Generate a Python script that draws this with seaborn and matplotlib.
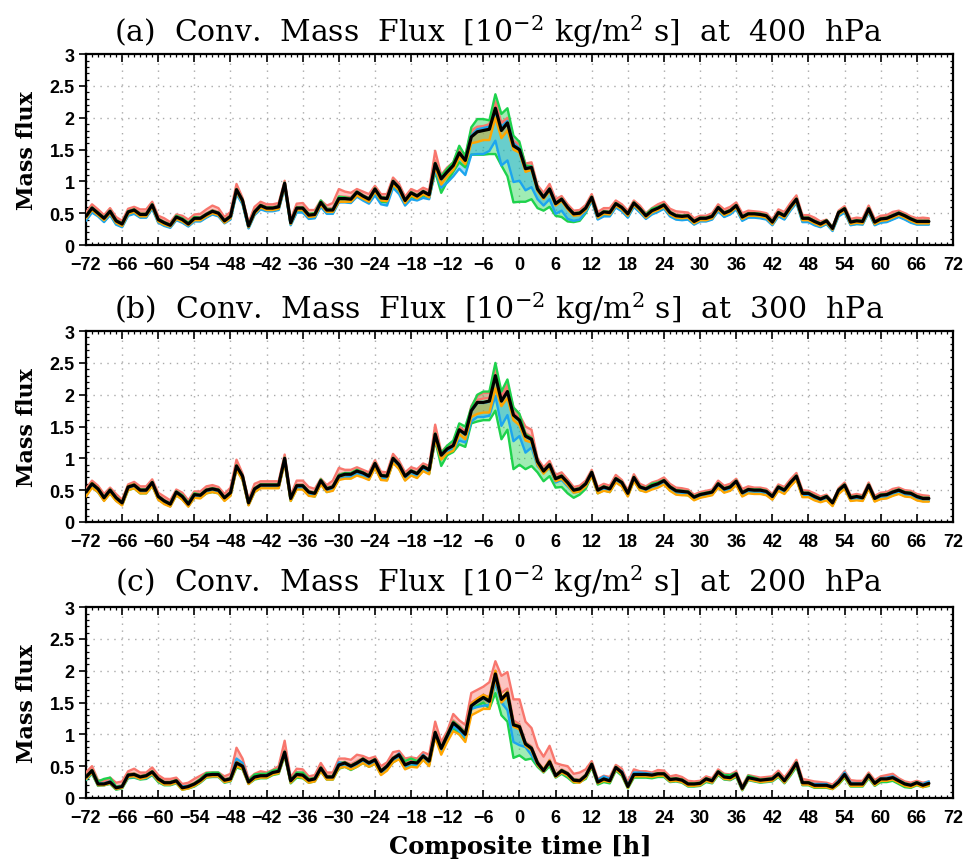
import numpy as np
import matplotlib
matplotlib.use("Agg")
import matplotlib.pyplot as plt
import seaborn as sns
from matplotlib.ticker import MultipleLocator

# Composite time axis [h]
hours = np.arange(-72, 69)

# Convective mass flux, stored in hundredths of 10^-2 kg/m^2/s
# ---------------------------------------------------------------- 400 hPa
p400_black = [
    45, 58, 50, 42, 53, 38, 33, 52, 55, 48, 48, 63,
    40, 35, 31, 44, 40, 33, 42, 42, 48, 53, 50, 38,
    45, 87, 70, 30, 52, 62, 58, 58, 60, 97, 35, 58,
    58, 47, 48, 67, 55, 55, 73, 73, 72, 83, 77, 72,
    88, 74, 73, 100, 90, 70, 82, 77, 84, 79, 128, 104,
    115, 125, 145, 133, 170, 178, 180, 182, 215, 180, 192, 156,
    150, 120, 122, 88, 75, 88, 65, 72, 59, 49, 50, 58,
    75, 46, 52, 51, 65, 59, 49, 66, 57, 46, 54, 58,
    63, 51, 46, 45, 46, 37, 42, 42, 45, 59, 50, 54,
    62, 44, 49, 49, 48, 46, 36, 51, 46, 60, 72, 42,
    42, 37, 33, 38, 26, 51, 57, 36, 38, 37, 57, 36,
    41, 42, 46, 50, 46, 41, 37, 37, 37,
]
p400_red_hi = [
    51, 64, 56, 47, 58, 44, 38, 57, 60, 56, 56, 68,
    46, 42, 36, 48, 46, 40, 48, 49, 56, 62, 58, 44,
    52, 96, 74, 35, 60, 68, 64, 64, 66, 101, 40, 65,
    66, 55, 55, 70, 62, 66, 88, 84, 82, 88, 84, 80,
    93, 80, 80, 106, 96, 76, 88, 84, 90, 86, 148, 110,
    122, 130, 152, 139, 180, 186, 187, 190, 226, 192, 200, 164,
    158, 128, 130, 94, 82, 96, 72, 77, 64, 54, 55, 63,
    80, 52, 58, 58, 70, 64, 54, 70, 62, 50, 58, 64,
    68, 57, 53, 52, 51, 42, 46, 46, 50, 64, 56, 60,
    67, 50, 54, 53, 52, 50, 40, 56, 52, 66, 78, 47,
    47, 43, 37, 40, 28, 54, 61, 41, 43, 42, 62, 41,
    46, 47, 52, 54, 50, 45, 42, 43, 42,
]
p400_red_lo = [
    47, 60, 52, 44, 55, 40, 35, 54, 57, 51, 51, 65,
    42, 37, 33, 45, 42, 35, 44, 44, 50, 55, 52, 40,
    47, 89, 72, 32, 54, 64, 60, 60, 62, 98, 37, 60,
    60, 49, 50, 68, 57, 58, 76, 76, 75, 85, 79, 74,
    90, 76, 75, 102, 92, 72, 84, 79, 86, 81, 133, 106,
    118, 127, 148, 135, 174, 182, 183, 185, 220, 186, 196, 160,
    153, 123, 125, 90, 77, 90, 67, 74, 61, 51, 52, 60,
    77, 48, 54, 53, 67, 61, 51, 68, 59, 48, 56, 60,
    65, 53, 48, 47, 48, 39, 44, 44, 47, 61, 52, 56,
    64, 46, 51, 51, 50, 48, 38, 53, 48, 62, 74, 44,
    44, 39, 35, 39, 27, 52, 58, 38, 40, 39, 59, 38,
    43, 44, 48, 52, 48, 43, 39, 39, 39,
]
p400_green_hi = [
    46, 59, 51, 43, 54, 39, 34, 53, 56, 49, 49, 64,
    41, 36, 32, 46, 42, 35, 44, 43, 49, 54, 51, 39,
    46, 88, 71, 31, 53, 63, 59, 59, 61, 98, 36, 59,
    59, 49, 50, 70, 57, 56, 76, 75, 73, 84, 78, 73,
    89, 75, 74, 101, 91, 71, 83, 78, 85, 80, 129, 108,
    120, 130, 156, 140, 185, 198, 198, 196, 237, 206, 215, 172,
    162, 125, 124, 90, 76, 89, 66, 73, 60, 50, 51, 59,
    76, 47, 53, 52, 66, 60, 50, 67, 58, 48, 57, 60,
    64, 52, 47, 46, 47, 38, 43, 43, 46, 60, 51, 55,
    63, 45, 50, 50, 49, 47, 37, 52, 47, 61, 73, 43,
    43, 38, 34, 39, 27, 52, 58, 37, 39, 38, 58, 37,
    42, 43, 47, 51, 47, 42, 38, 38, 38,
]
p400_green_lo = [
    40, 53, 46, 37, 48, 33, 29, 47, 50, 44, 44, 58,
    36, 31, 28, 40, 36, 30, 38, 38, 44, 49, 46, 35,
    41, 82, 65, 27, 48, 57, 54, 54, 56, 92, 32, 52,
    52, 42, 43, 62, 50, 50, 68, 68, 67, 78, 72, 67,
    82, 68, 67, 94, 84, 65, 76, 72, 78, 74, 115, 82,
    100, 115, 130, 122, 142, 142, 142, 143, 143, 125, 108, 67,
    68, 68, 72, 58, 54, 60, 46, 44, 37, 36, 38, 50,
    70, 41, 47, 46, 60, 54, 44, 61, 52, 42, 50, 54,
    58, 46, 41, 40, 41, 33, 38, 38, 41, 54, 45, 49,
    57, 39, 44, 44, 43, 41, 32, 46, 41, 55, 67, 37,
    37, 32, 29, 33, 23, 46, 52, 32, 33, 33, 52, 32,
    36, 37, 41, 45, 41, 36, 33, 33, 33,
]
p400_blue_hi = [
    44, 56, 48, 40, 51, 36, 31, 50, 53, 46, 46, 61,
    39, 34, 30, 43, 39, 32, 41, 41, 47, 52, 49, 37,
    44, 86, 69, 29, 51, 61, 57, 57, 59, 95, 34, 57,
    57, 46, 47, 66, 54, 54, 72, 72, 71, 82, 76, 71,
    87, 73, 72, 99, 89, 69, 81, 76, 83, 78, 126, 102,
    114, 124, 144, 132, 172, 182, 184, 186, 208, 186, 195, 160,
    152, 121, 123, 88, 75, 88, 65, 71, 58, 48, 49, 57,
    74, 45, 51, 50, 64, 58, 48, 65, 56, 45, 53, 57,
    62, 50, 45, 44, 45, 36, 41, 41, 44, 58, 49, 53,
    61, 43, 48, 48, 47, 45, 35, 50, 45, 59, 71, 41,
    41, 36, 32, 37, 25, 50, 56, 35, 37, 36, 56, 35,
    40, 41, 45, 49, 45, 40, 36, 36, 36,
]
p400_blue_lo = [
    38, 51, 45, 36, 47, 32, 28, 46, 49, 43, 43, 57,
    35, 30, 27, 39, 35, 29, 37, 37, 43, 48, 45, 34,
    40, 80, 64, 26, 47, 56, 53, 53, 55, 90, 31, 51,
    51, 41, 42, 60, 49, 49, 67, 67, 66, 76, 70, 65,
    78, 64, 62, 90, 80, 62, 72, 70, 74, 72, 118, 90,
    98, 108, 120, 110, 142, 143, 143, 148, 164, 125, 133, 99,
    101, 86, 91, 72, 62, 72, 49, 54, 41, 38, 40, 52,
    69, 40, 45, 45, 59, 53, 43, 60, 51, 41, 48, 52,
    57, 45, 40, 39, 40, 32, 37, 37, 40, 53, 44, 48,
    56, 38, 43, 43, 42, 40, 31, 45, 40, 54, 66, 36,
    36, 31, 28, 33, 22, 45, 51, 31, 33, 32, 51, 31,
    35, 36, 40, 44, 40, 35, 32, 32, 32,
]
p400_orange_hi = [
    45, 57, 50, 42, 52, 38, 33, 51, 55, 48, 48, 62,
    40, 35, 31, 44, 40, 33, 42, 42, 48, 53, 50, 38,
    45, 87, 70, 30, 52, 62, 58, 58, 60, 96, 35, 58,
    58, 47, 48, 67, 55, 55, 72, 72, 71, 82, 76, 71,
    88, 74, 73, 100, 90, 70, 82, 77, 84, 79, 127, 103,
    115, 125, 145, 133, 170, 178, 180, 182, 214, 180, 192, 156,
    150, 120, 122, 88, 75, 87, 65, 72, 59, 49, 50, 58,
    75, 46, 52, 51, 65, 59, 49, 66, 57, 46, 54, 58,
    63, 51, 46, 45, 46, 37, 42, 42, 45, 59, 50, 54,
    62, 44, 49, 49, 48, 46, 36, 51, 46, 60, 72, 42,
    42, 37, 33, 38, 26, 51, 57, 36, 38, 37, 57, 36,
    41, 42, 46, 50, 46, 41, 37, 37, 37,
]
p400_orange_lo = [
    42, 55, 47, 39, 50, 35, 30, 49, 52, 45, 45, 60,
    37, 32, 29, 41, 37, 31, 39, 39, 45, 50, 47, 35,
    42, 84, 67, 28, 49, 59, 55, 55, 57, 93, 33, 55,
    55, 44, 45, 63, 52, 52, 68, 68, 68, 78, 73, 68,
    84, 70, 69, 95, 86, 66, 78, 73, 80, 75, 122, 95,
    108, 118, 138, 127, 160, 162, 165, 165, 200, 168, 180, 150,
    145, 115, 118, 85, 72, 85, 62, 69, 56, 46, 47, 55,
    72, 43, 49, 48, 62, 56, 46, 63, 54, 43, 51, 55,
    60, 48, 43, 42, 43, 34, 39, 39, 42, 56, 47, 51,
    59, 41, 46, 46, 45, 43, 33, 48, 43, 57, 69, 39,
    39, 34, 30, 35, 24, 48, 54, 33, 35, 34, 54, 33,
    38, 39, 43, 47, 43, 38, 34, 34, 34,
]

# ---------------------------------------------------------------- 300 hPa
p300_black = [
    47, 60, 52, 38, 50, 38, 30, 55, 58, 50, 50, 62,
    40, 33, 28, 47, 40, 28, 43, 42, 50, 52, 50, 38,
    46, 88, 72, 30, 52, 58, 58, 58, 58, 100, 37, 57,
    57, 47, 45, 65, 52, 55, 72, 75, 75, 80, 77, 72,
    92, 73, 72, 100, 90, 72, 80, 76, 87, 82, 138, 105,
    115, 120, 145, 138, 175, 188, 188, 190, 230, 190, 205, 168,
    160, 135, 130, 95, 80, 90, 68, 72, 62, 50, 52, 60,
    78, 50, 55, 52, 68, 62, 45, 70, 55, 52, 57, 60,
    65, 55, 49, 48, 47, 39, 43, 45, 47, 60, 52, 55,
    64, 46, 51, 50, 50, 48, 40, 55, 50, 62, 72, 45,
    45, 40, 36, 40, 30, 50, 58, 38, 40, 38, 58, 37,
    42, 43, 47, 50, 46, 45, 40, 37, 37,
]
p300_red_hi = [
    52, 65, 57, 44, 54, 44, 35, 59, 63, 56, 56, 67,
    46, 40, 34, 51, 46, 34, 48, 48, 56, 58, 55, 44,
    54, 98, 76, 35, 60, 64, 64, 64, 64, 106, 42, 65,
    65, 55, 52, 68, 58, 65, 85, 82, 82, 86, 82, 78,
    97, 79, 78, 107, 96, 78, 86, 83, 92, 88, 153, 110,
    120, 126, 150, 142, 182, 198, 203, 203, 240, 198, 216, 180,
    168, 150, 145, 100, 86, 96, 74, 78, 67, 55, 57, 65,
    82, 55, 60, 57, 74, 66, 50, 75, 60, 56, 62, 65,
    70, 60, 54, 53, 51, 43, 47, 49, 51, 65, 57, 60,
    68, 52, 56, 54, 54, 52, 44, 59, 55, 67, 77, 50,
    49, 45, 40, 43, 32, 53, 62, 42, 44, 42, 62, 41,
    46, 47, 52, 54, 50, 49, 44, 42, 41,
]
p300_red_lo = [
    49, 62, 54, 40, 52, 40, 32, 57, 60, 52, 52, 64,
    42, 35, 30, 49, 42, 30, 45, 44, 52, 54, 52, 40,
    48, 91, 74, 32, 54, 60, 60, 60, 60, 102, 39, 59,
    59, 49, 47, 66, 54, 58, 75, 77, 77, 82, 79, 74,
    94, 75, 74, 103, 92, 74, 82, 78, 89, 84, 142, 107,
    117, 122, 147, 140, 178, 192, 194, 195, 234, 194, 210, 172,
    163, 140, 134, 97, 82, 92, 70, 74, 64, 52, 54, 62,
    79, 52, 57, 54, 70, 63, 47, 72, 57, 54, 59, 62,
    67, 57, 51, 50, 49, 41, 45, 47, 49, 62, 54, 57,
    66, 48, 53, 52, 52, 50, 42, 57, 52, 64, 74, 47,
    47, 42, 38, 41, 31, 51, 60, 40, 42, 40, 60, 39,
    44, 45, 49, 52, 48, 47, 42, 39, 39,
]
p300_green_hi = [
    48, 61, 53, 39, 51, 39, 31, 56, 59, 51, 51, 63,
    41, 34, 29, 48, 42, 30, 45, 43, 51, 53, 51, 39,
    47, 89, 73, 31, 53, 59, 59, 59, 59, 101, 38, 58,
    58, 48, 46, 67, 53, 56, 74, 77, 77, 82, 78, 73,
    93, 74, 73, 101, 91, 73, 81, 77, 88, 83, 139, 108,
    120, 128, 155, 150, 180, 200, 205, 205, 250, 205, 224, 180,
    170, 138, 132, 96, 81, 91, 69, 73, 63, 51, 53, 61,
    79, 51, 56, 53, 69, 63, 46, 71, 56, 53, 60, 62,
    66, 56, 50, 49, 48, 40, 44, 46, 48, 61, 53, 56,
    65, 47, 52, 51, 51, 49, 41, 56, 51, 63, 73, 46,
    46, 41, 37, 41, 31, 51, 59, 39, 41, 39, 59, 38,
    43, 44, 48, 51, 47, 46, 41, 38, 38,
]
p300_green_lo = [
    42, 55, 47, 34, 45, 34, 27, 50, 53, 45, 45, 57,
    36, 29, 25, 42, 36, 25, 38, 38, 45, 47, 45, 34,
    42, 83, 67, 27, 47, 54, 54, 54, 54, 94, 33, 52,
    52, 42, 40, 60, 47, 50, 67, 70, 70, 75, 72, 67,
    86, 67, 66, 94, 84, 66, 74, 70, 81, 76, 128, 88,
    105, 110, 122, 118, 155, 158, 160, 160, 175, 130, 145, 83,
    90, 83, 88, 78, 64, 72, 54, 55, 45, 38, 43, 52,
    73, 45, 50, 47, 63, 57, 41, 65, 50, 48, 53, 56,
    60, 50, 44, 43, 42, 35, 39, 41, 43, 55, 47, 50,
    59, 41, 46, 45, 45, 43, 36, 50, 45, 57, 67, 40,
    40, 35, 32, 35, 26, 45, 53, 34, 35, 34, 53, 33,
    37, 38, 42, 45, 41, 40, 35, 33, 33,
]
p300_blue_hi = [
    46, 59, 51, 37, 49, 37, 29, 54, 57, 49, 49, 61,
    39, 33, 28, 46, 39, 28, 42, 41, 49, 51, 49, 37,
    45, 87, 71, 29, 51, 57, 57, 57, 57, 99, 36, 56,
    56, 46, 44, 64, 51, 54, 71, 74, 74, 79, 76, 71,
    91, 72, 71, 99, 89, 71, 79, 75, 86, 81, 136, 103,
    114, 119, 144, 137, 174, 187, 187, 189, 228, 189, 204, 167,
    159, 134, 129, 94, 79, 89, 67, 71, 61, 49, 51, 59,
    77, 49, 54, 51, 67, 61, 44, 69, 54, 51, 56, 59,
    64, 54, 48, 47, 46, 38, 42, 44, 46, 59, 51, 54,
    63, 45, 50, 49, 49, 47, 39, 54, 49, 61, 71, 44,
    44, 39, 35, 39, 29, 49, 57, 37, 39, 37, 57, 36,
    41, 42, 46, 49, 45, 44, 39, 36, 36,
]
p300_blue_lo = [
    42, 55, 47, 34, 46, 34, 27, 51, 54, 46, 46, 58,
    36, 30, 25, 43, 36, 25, 39, 38, 46, 48, 46, 35,
    42, 83, 67, 27, 48, 54, 54, 54, 54, 95, 34, 53,
    53, 43, 41, 61, 48, 51, 68, 71, 71, 76, 73, 68,
    87, 68, 67, 95, 85, 67, 75, 71, 82, 77, 128, 100,
    110, 115, 128, 125, 158, 165, 165, 167, 198, 151, 168, 127,
    135, 109, 117, 88, 77, 85, 62, 66, 56, 46, 48, 56,
    74, 46, 51, 48, 64, 58, 42, 66, 51, 48, 53, 56,
    61, 51, 45, 44, 43, 36, 40, 42, 44, 56, 48, 51,
    60, 42, 47, 46, 46, 44, 36, 51, 46, 58, 68, 41,
    41, 36, 32, 36, 27, 46, 54, 34, 36, 34, 54, 34,
    38, 39, 43, 46, 42, 41, 36, 34, 34,
]
p300_orange_hi = [
    47, 61, 53, 38, 50, 38, 31, 56, 59, 50, 50, 62,
    40, 33, 28, 47, 40, 28, 43, 42, 50, 52, 50, 38,
    46, 88, 72, 30, 52, 58, 58, 58, 58, 100, 37, 57,
    57, 47, 45, 65, 52, 55, 71, 74, 75, 80, 77, 72,
    92, 73, 72, 100, 90, 72, 80, 76, 87, 82, 137, 104,
    115, 120, 145, 138, 175, 188, 188, 190, 229, 190, 205, 168,
    160, 135, 130, 95, 80, 90, 68, 72, 62, 50, 52, 60,
    78, 50, 55, 52, 68, 62, 45, 70, 55, 52, 57, 60,
    65, 55, 49, 48, 47, 39, 43, 45, 47, 60, 52, 55,
    64, 46, 51, 50, 50, 48, 40, 55, 50, 62, 72, 45,
    45, 40, 36, 40, 30, 50, 58, 38, 40, 38, 58, 37,
    42, 43, 47, 50, 46, 45, 40, 37, 37,
]
p300_orange_lo = [
    40, 54, 47, 33, 45, 33, 26, 50, 53, 45, 45, 57,
    35, 28, 24, 42, 35, 24, 38, 37, 45, 47, 45, 33,
    41, 82, 66, 26, 47, 53, 53, 53, 53, 93, 33, 51,
    51, 41, 40, 59, 47, 49, 66, 68, 68, 73, 70, 66,
    85, 66, 65, 93, 83, 65, 73, 69, 80, 75, 130, 98,
    108, 112, 138, 130, 165, 170, 172, 172, 210, 182, 195, 160,
    152, 128, 125, 90, 76, 86, 64, 68, 58, 46, 48, 56,
    72, 45, 49, 47, 62, 56, 40, 64, 50, 47, 51, 54,
    59, 49, 43, 42, 42, 34, 38, 40, 42, 54, 46, 49,
    58, 40, 45, 44, 44, 42, 35, 49, 44, 56, 66, 39,
    39, 34, 31, 34, 25, 44, 52, 33, 34, 33, 52, 32,
    36, 37, 41, 44, 40, 39, 34, 32, 32,
]

# ---------------------------------------------------------------- 200 hPa
p200_black = [
    33, 43, 22, 22, 25, 16, 18, 36, 37, 33, 35, 41,
    30, 24, 24, 27, 16, 18, 22, 28, 36, 37, 37, 28,
    30, 55, 50, 25, 33, 35, 35, 40, 42, 72, 27, 37,
    36, 28, 30, 47, 33, 33, 52, 55, 50, 55, 61, 55,
    60, 42, 50, 62, 68, 52, 56, 55, 66, 58, 103, 78,
    98, 118, 110, 100, 145, 152, 158, 152, 195, 155, 165, 115,
    112, 85, 78, 55, 43, 57, 35, 43, 38, 28, 27, 35,
    53, 25, 30, 27, 48, 40, 18, 37, 37, 37, 36, 38,
    38, 29, 30, 28, 22, 22, 23, 30, 27, 41, 33, 32,
    38, 15, 32, 30, 28, 29, 30, 38, 27, 40, 55, 24,
    24, 20, 20, 20, 17, 25, 37, 22, 22, 22, 36, 23,
    30, 30, 32, 27, 22, 20, 24, 20, 23,
]
p200_red_hi = [
    40, 50, 28, 27, 32, 24, 26, 42, 46, 40, 40, 48,
    36, 30, 30, 32, 22, 24, 30, 35, 40, 40, 40, 34,
    38, 79, 62, 30, 38, 42, 40, 44, 50, 90, 32, 46,
    45, 34, 36, 55, 40, 40, 62, 62, 60, 68, 66, 62,
    65, 50, 56, 72, 74, 62, 64, 62, 72, 68, 120, 88,
    105, 132, 122, 115, 165, 170, 175, 182, 215, 192, 198, 155,
    155, 120, 110, 80, 65, 82, 55, 52, 50, 38, 40, 45,
    58, 30, 35, 33, 52, 46, 25, 45, 42, 42, 40, 44,
    43, 34, 36, 33, 27, 26, 27, 34, 31, 45, 38, 37,
    42, 19, 36, 34, 32, 33, 34, 43, 32, 45, 60, 30,
    28, 26, 25, 24, 21, 30, 42, 28, 27, 27, 40, 28,
    34, 36, 38, 31, 26, 24, 27, 24, 26,
]
p200_red_lo = [
    35, 45, 24, 24, 27, 18, 20, 38, 39, 35, 37, 43,
    32, 26, 26, 29, 18, 20, 24, 30, 38, 39, 39, 30,
    32, 60, 53, 27, 35, 37, 37, 42, 45, 76, 29, 40,
    38, 30, 32, 49, 35, 35, 55, 57, 53, 58, 63, 57,
    62, 44, 52, 64, 70, 54, 58, 57, 68, 60, 106, 80,
    100, 122, 114, 104, 150, 156, 162, 158, 200, 165, 172, 122,
    116, 88, 81, 58, 45, 60, 37, 45, 40, 30, 29, 37,
    55, 27, 32, 29, 50, 42, 20, 39, 39, 39, 38, 40,
    40, 31, 32, 30, 24, 24, 25, 32, 29, 43, 35, 34,
    40, 16, 34, 32, 30, 31, 32, 40, 29, 42, 57, 26,
    26, 22, 22, 22, 19, 27, 39, 24, 24, 24, 38, 25,
    32, 32, 34, 29, 24, 22, 25, 22, 24,
]
p200_green_hi = [
    34, 44, 26, 30, 32, 18, 19, 37, 38, 34, 36, 42,
    31, 25, 25, 28, 17, 19, 23, 30, 39, 40, 40, 29,
    31, 56, 51, 27, 37, 38, 38, 43, 45, 73, 28, 40,
    40, 30, 31, 48, 34, 34, 55, 56, 51, 56, 62, 56,
    61, 43, 51, 63, 69, 58, 62, 58, 67, 59, 104, 79,
    100, 120, 112, 102, 147, 154, 160, 154, 197, 157, 167, 117,
    113, 86, 79, 56, 44, 58, 36, 44, 39, 29, 28, 36,
    54, 26, 31, 28, 49, 41, 19, 38, 38, 38, 37, 39,
    39, 30, 31, 29, 23, 23, 24, 31, 28, 42, 36, 36,
    39, 16, 35, 32, 29, 30, 31, 39, 28, 41, 56, 25,
    25, 21, 21, 21, 18, 26, 38, 23, 23, 23, 37, 24,
    31, 31, 33, 28, 23, 21, 25, 21, 24,
]
p200_green_lo = [
    28, 38, 19, 20, 22, 13, 15, 31, 32, 29, 30, 36,
    25, 20, 20, 23, 13, 15, 18, 24, 32, 33, 33, 24,
    26, 48, 45, 22, 29, 31, 31, 36, 38, 66, 23, 32,
    31, 24, 26, 42, 29, 29, 46, 49, 44, 49, 55, 49,
    54, 37, 45, 56, 62, 47, 51, 50, 60, 52, 98, 72,
    90, 110, 100, 92, 140, 145, 150, 140, 165, 130, 120, 63,
    67, 60, 62, 49, 40, 50, 32, 38, 32, 24, 25, 30,
    48, 21, 25, 23, 43, 35, 15, 32, 32, 32, 31, 33,
    33, 25, 26, 24, 18, 18, 19, 25, 23, 36, 29, 28,
    33, 12, 28, 26, 24, 25, 26, 33, 23, 35, 49, 20,
    20, 16, 16, 16, 14, 21, 32, 18, 18, 18, 31, 19,
    25, 25, 27, 22, 17, 16, 20, 17, 19,
]
p200_blue_hi = [
    32, 42, 23, 23, 26, 17, 18, 35, 36, 32, 34, 40,
    29, 23, 23, 26, 18, 19, 21, 27, 35, 36, 36, 27,
    30, 62, 55, 25, 33, 35, 35, 40, 42, 72, 27, 37,
    35, 27, 29, 46, 32, 32, 56, 54, 49, 54, 60, 54,
    59, 41, 49, 61, 70, 51, 55, 54, 68, 57, 102, 77,
    97, 117, 109, 99, 144, 151, 157, 151, 194, 154, 164, 114,
    111, 84, 77, 54, 42, 56, 34, 42, 37, 27, 26, 34,
    52, 28, 34, 30, 47, 42, 20, 40, 40, 39, 38, 37,
    37, 28, 29, 27, 21, 21, 22, 29, 26, 40, 32, 31,
    37, 15, 31, 29, 27, 28, 29, 37, 26, 39, 54, 23,
    23, 22, 22, 22, 16, 27, 40, 24, 23, 23, 35, 22,
    31, 32, 34, 28, 22, 21, 24, 22, 26,
]
p200_blue_lo = [
    29, 39, 20, 20, 23, 14, 16, 32, 33, 30, 31, 37,
    27, 21, 21, 24, 15, 16, 19, 25, 33, 34, 34, 25,
    27, 52, 47, 23, 31, 33, 33, 38, 40, 69, 25, 35,
    33, 25, 27, 44, 30, 30, 50, 52, 47, 52, 58, 52,
    57, 39, 47, 59, 65, 49, 53, 52, 63, 55, 98, 74,
    94, 113, 105, 95, 140, 143, 145, 146, 180, 150, 138, 88,
    83, 80, 67, 52, 41, 55, 33, 40, 35, 26, 25, 33,
    50, 24, 29, 26, 45, 38, 17, 36, 36, 36, 35, 36,
    35, 26, 27, 25, 19, 19, 20, 27, 24, 38, 30, 29,
    35, 13, 29, 27, 25, 26, 27, 35, 24, 37, 52, 21,
    21, 19, 19, 19, 15, 23, 35, 20, 20, 20, 33, 20,
    28, 28, 30, 25, 20, 19, 22, 19, 21,
]
p200_orange_hi = [
    33, 43, 22, 22, 25, 16, 18, 36, 37, 33, 35, 41,
    30, 24, 24, 27, 16, 18, 22, 28, 36, 37, 37, 28,
    30, 56, 51, 25, 33, 35, 35, 40, 42, 72, 27, 37,
    36, 28, 30, 47, 33, 33, 52, 55, 50, 55, 61, 55,
    60, 42, 50, 62, 68, 52, 56, 55, 66, 58, 103, 78,
    98, 118, 110, 100, 148, 156, 162, 158, 200, 158, 167, 117,
    112, 85, 78, 55, 45, 59, 36, 43, 38, 28, 27, 35,
    53, 25, 30, 27, 48, 40, 18, 37, 37, 37, 36, 38,
    38, 29, 30, 28, 22, 22, 23, 30, 27, 41, 33, 32,
    38, 15, 32, 30, 28, 29, 30, 38, 27, 40, 55, 24,
    24, 20, 20, 20, 17, 25, 37, 22, 22, 22, 36, 23,
    30, 30, 32, 27, 22, 20, 24, 20, 23,
]
p200_orange_lo = [
    30, 40, 20, 20, 23, 14, 16, 33, 34, 30, 32, 38,
    27, 21, 21, 24, 13, 15, 19, 25, 33, 34, 34, 25,
    27, 50, 46, 22, 30, 32, 32, 37, 39, 68, 24, 34,
    32, 24, 26, 42, 29, 29, 47, 49, 45, 49, 55, 49,
    54, 36, 43, 56, 61, 45, 49, 48, 60, 50, 95, 68,
    88, 105, 100, 88, 130, 135, 140, 140, 190, 150, 160, 112,
    108, 82, 75, 52, 41, 55, 33, 40, 35, 25, 24, 32,
    50, 23, 27, 25, 45, 37, 16, 34, 34, 34, 33, 35,
    35, 26, 27, 25, 19, 19, 20, 27, 24, 38, 30, 29,
    35, 13, 29, 27, 25, 26, 27, 35, 24, 37, 52, 21,
    21, 17, 17, 17, 14, 22, 34, 19, 19, 19, 33, 20,
    27, 27, 29, 24, 19, 17, 21, 17, 20,
]

levels = [400, 300, 200]
panel_tags = ["(a)", "(b)", "(c)"]
x_ticks = list(range(-72, 73, 6))
x_tick_labels = [str(v).replace("-", "\u2212") for v in x_ticks]
y_ticks = [0, 0.5, 1, 1.5, 2, 2.5, 3]
y_tick_labels = ["0", "0.5", "1", "1.5", "2", "2.5", "3"]

series = {
    400: dict(black=p400_black,
              red=(p400_red_lo, p400_red_hi), green=(p400_green_lo, p400_green_hi),
              blue=(p400_blue_lo, p400_blue_hi), orange=(p400_orange_lo, p400_orange_hi)),
    300: dict(black=p300_black,
              red=(p300_red_lo, p300_red_hi), green=(p300_green_lo, p300_green_hi),
              blue=(p300_blue_lo, p300_blue_hi), orange=(p300_orange_lo, p300_orange_hi)),
    200: dict(black=p200_black,
              red=(p200_red_lo, p200_red_hi), green=(p200_green_lo, p200_green_hi),
              blue=(p200_blue_lo, p200_blue_hi), orange=(p200_orange_lo, p200_orange_hi)),
}

palette = {"red": "#F8766D", "green": "#1ED24C", "blue": "#1CA5EE", "orange": "#FFA500"}


def flux(vals):
    arr = np.asarray(vals, dtype=float) / 100.0
    assert arr.size == hours.size, f"expected {hours.size} values, got {arr.size}"
    return arr


sns.set_theme(style="white")
plt.rcParams["font.family"] = ["DejaVu Sans"]
plt.rcParams["text.color"] = "black"
plt.rcParams["xtick.color"] = "black"
plt.rcParams["ytick.color"] = "black"
plt.rcParams["mathtext.fontset"] = "dejavuserif"

fig = plt.figure(figsize=(9.76, 8.62), dpi=100)

ax_left, ax_width, ax_height = 0.0881, 0.8883, 0.2214
ax_bottoms = [0.7146, 0.3933, 0.0731]
title_y = [0.963, 0.6415, 0.3248]

tick_font = dict(family="Liberation Sans", weight="bold", size=13)

for tag, lev, y0, ty in zip(panel_tags, levels, ax_bottoms, title_y):
    ax = fig.add_axes([ax_left, y0, ax_width, ax_height])
    data = series[lev]

    # spread bands of the four members
    for name in ["green", "blue", "orange", "red"]:
        lo, hi = data[name]
        ax.fill_between(hours, flux(lo), flux(hi), color=palette[name],
                        alpha=0.42, lw=0, zorder=2)
    for name in ["red", "green", "blue", "orange"]:
        for arr in data[name]:
            sns.lineplot(x=hours, y=flux(arr), ax=ax, color=palette[name],
                         lw=1.7, legend=False, estimator=None, zorder=3)
    sns.lineplot(x=hours, y=flux(data["black"]), ax=ax, color="black",
                 lw=2.3, legend=False, estimator=None, zorder=4)

    ax.set_xlim(-72, 72)
    ax.set_ylim(0, 3)
    ax.set_xticks(x_ticks)
    ax.set_xticklabels(x_tick_labels, **tick_font)
    ax.set_yticks(y_ticks)
    ax.set_yticklabels(y_tick_labels, **tick_font)
    ax.xaxis.set_minor_locator(MultipleLocator(1))
    ax.yaxis.set_minor_locator(MultipleLocator(0.1))
    ax.tick_params(axis="x", which="major", direction="in", length=6, width=1.2,
                   top=True, bottom=True, pad=8)
    ax.tick_params(axis="x", which="minor", direction="in", length=2.5, width=0.9,
                   top=True, bottom=True)
    ax.tick_params(axis="y", which="major", direction="out", length=5, width=1.2,
                   left=True, right=False, pad=3)
    ax.tick_params(axis="y", which="minor", direction="in", length=2.5, width=0.9,
                   left=True, right=True)
    ax.grid(True, which="major", color="#a9a9a9", lw=1.0, ls=(0, (1, 4)))
    ax.set_axisbelow(True)
    for sp in ax.spines.values():
        sp.set_color("black")
        sp.set_linewidth(1.6)
    ax.set_xlabel("")
    ax.set_ylabel("")

    title = (tag + "  Conv.  Mass  Flux  [10$^{-2}$ kg/m$^{2}$ s]  at  "
             + f"{lev}  hPa")
    fig.text(0.511, ty, title, ha="center", va="center", fontsize=21.5,
             family="DejaVu Serif")
    fig.text(0.028, y0 + ax_height / 2, "Mass flux", rotation=90,
             ha="center", va="center", fontsize=16, family="DejaVu Serif",
             weight="bold")

fig.text(0.533, 0.0174, "Composite time [h]", ha="center", va="center",
         fontsize=17.5, family="DejaVu Serif", weight="bold")

fig.savefig("out.png", dpi=100)
